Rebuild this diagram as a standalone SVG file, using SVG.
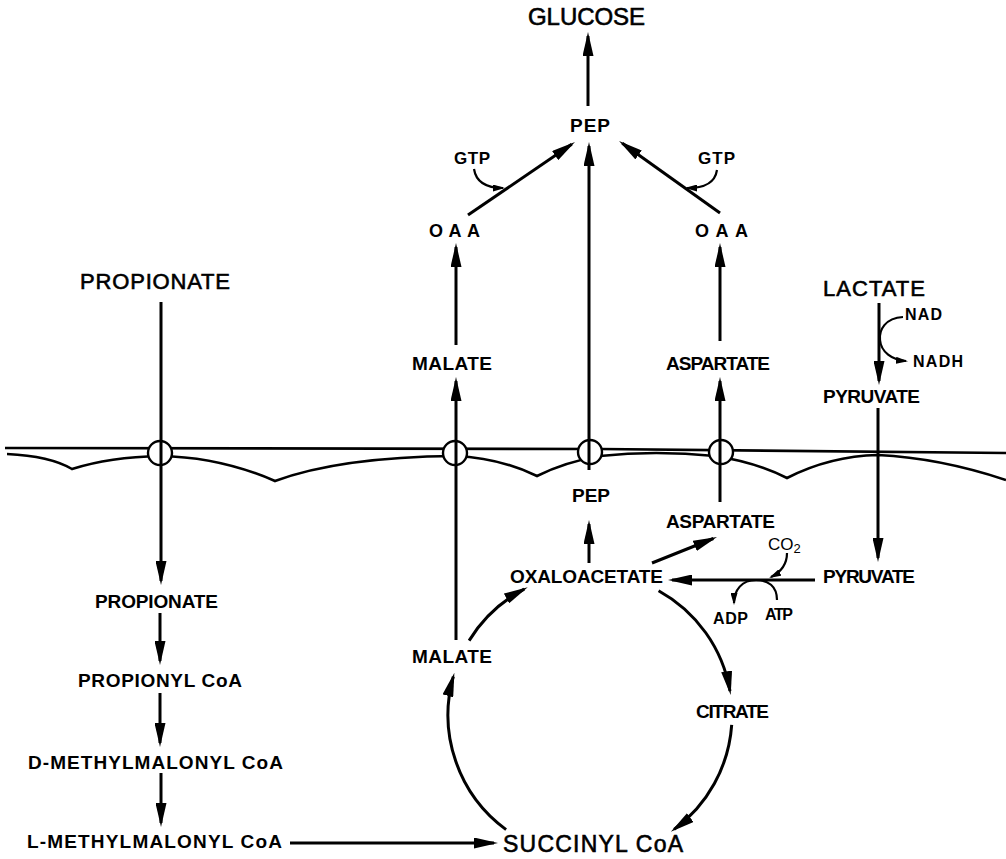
<svg xmlns="http://www.w3.org/2000/svg" width="1006" height="859" viewBox="0 0 1006 859">
<style>
.ln{stroke:#000;stroke-width:3;fill:none}
.cf{stroke:#000;stroke-width:2.2;fill:none}
.mb{stroke:#000;stroke-width:2.6;fill:none}
.pore{fill:#fff;stroke:#000;stroke-width:2.4}
text{font-family:"Liberation Sans",Arial,sans-serif;fill:#000}
.b{font-weight:bold;font-size:19px}
.s{font-weight:bold;font-size:18px}
.c{font-weight:bold;font-size:16px}
.n{font-weight:normal;font-size:22px;stroke:#000;stroke-width:0.6}
</style>
<defs>
<marker id="ah" viewBox="0 0 24 11" markerWidth="24" markerHeight="11" refX="20" refY="5.5" orient="auto" markerUnits="userSpaceOnUse"><path d="M0,0 L24,5.5 L0,11 z" fill="#000"/></marker>
<marker id="sh" viewBox="0 0 12 7" markerWidth="12" markerHeight="7" refX="10" refY="3.5" orient="auto" markerUnits="userSpaceOnUse"><path d="M0,0 L12,3.5 L0,7 z" fill="#000"/></marker>
</defs>
<rect width="1006" height="859" fill="#fff"/>

<g id="membrane">
<path class="mb" d="M5,448 L600,449 L1006,453"/>
<path class="mb" d="M7,454 Q50,456 72,469 Q110,457 160,456 Q220,457 275,481 Q340,457 455,456 Q500,458 537,476 Q565,462 600,456 Q655,450 715,456 Q755,462 787,478 Q830,456 878,455 Q940,458 1006,480"/>
<circle class="pore" cx="160" cy="453" r="12"/>
<circle class="pore" cx="455" cy="453" r="12"/>
<circle class="pore" cx="590" cy="452" r="12"/>
<circle class="pore" cx="721" cy="452" r="12"/>
</g>

<g id="connectors">
<line class="ln" x1="588" y1="106" x2="588" y2="36" marker-end="url(#ah)"/>
<line class="ln" x1="468" y1="215" x2="571.7" y2="144.3" marker-end="url(#ah)"/>
<line class="ln" x1="720" y1="213" x2="622.3" y2="143.3" marker-end="url(#ah)"/>
<line class="ln" x1="589" y1="470" x2="589" y2="146" marker-end="url(#ah)"/>
<line class="ln" x1="456" y1="345" x2="456" y2="247" marker-end="url(#ah)"/>
<line class="ln" x1="456" y1="640" x2="456" y2="381" marker-end="url(#ah)"/>
<line class="ln" x1="720" y1="341" x2="720" y2="247" marker-end="url(#ah)"/>
<line class="ln" x1="720" y1="502" x2="720" y2="381" marker-end="url(#ah)"/>
<line class="ln" x1="589" y1="563" x2="589" y2="524" marker-end="url(#ah)"/>
<line class="ln" x1="652" y1="563" x2="713.3" y2="538.5" marker-end="url(#ah)"/>
<line class="ln" x1="815" y1="580" x2="672" y2="580" marker-end="url(#ah)"/>
<line class="ln" x1="879" y1="303" x2="879" y2="381" marker-end="url(#ah)"/>
<line class="ln" x1="878" y1="408" x2="878" y2="558" marker-end="url(#ah)"/>
<line class="ln" x1="161" y1="302" x2="161" y2="581" marker-end="url(#ah)"/>
<line class="ln" x1="160" y1="613" x2="160" y2="661" marker-end="url(#ah)"/>
<line class="ln" x1="160" y1="693" x2="160" y2="743" marker-end="url(#ah)"/>
<line class="ln" x1="161" y1="773" x2="161" y2="823" marker-end="url(#ah)"/>
<line class="ln" x1="290" y1="843" x2="494" y2="843" marker-end="url(#ah)"/>
<path class="ln" d="M658.6,590.7 A142,142 0 0 1 730,691.1" marker-end="url(#ah)"/>
<path class="ln" d="M731.7,724.9 A142,142 0 0 1 674.1,829.4" marker-end="url(#ah)"/>
<path class="ln" d="M506.1,829.6 A142,142 0 0 1 453.3,676.6" marker-end="url(#ah)"/>
<path class="ln" d="M469.1,640.6 A142,142 0 0 1 524.2,589.2" marker-end="url(#ah)"/>
<path class="cf" d="M474,169 C476,182 486,188 503,188" marker-end="url(#sh)"/>
<path class="cf" d="M717,170 C715,183 705,188 687,188" marker-end="url(#sh)"/>
<path class="cf" d="M903,317 C885,318 879,330 880,340 C881,352 892,360 906,361" marker-end="url(#sh)"/>
<path class="cf" d="M787,553 C787,565 781,572 771,577" marker-end="url(#sh)"/>
<path class="cf" d="M777,600 C777,586 768,580 756,580 C742,580 734,590 734,603" marker-end="url(#sh)"/>
</g>

<g id="glucose"><text class="n" x="528" y="25" style="font-size:24px" textLength="117">GLUCOSE</text></g>
<g id="pep-top"><text class="b" x="570" y="132" textLength="40">PEP</text></g>
<g id="gtp-left"><text class="c" x="454" y="164" style="font-size:17px" textLength="36">GTP</text></g>
<g id="gtp-right"><text class="c" x="698" y="164" style="font-size:17px" textLength="37">GTP</text></g>
<g id="oaa-left"><text class="s" x="429" y="237" textLength="51">OAA</text></g>
<g id="oaa-right"><text class="s" x="695" y="237" textLength="53">OAA</text></g>
<g id="propionate-out"><text class="n" x="80" y="289" textLength="150">PROPIONATE</text></g>
<g id="lactate"><text class="n" x="823" y="296" textLength="102">LACTATE</text></g>
<g id="nad"><text class="c" x="905" y="320" textLength="37">NAD</text></g>
<g id="nadh"><text class="c" x="913" y="367" textLength="50">NADH</text></g>
<g id="malate-out"><text class="b" x="412" y="370" textLength="80">MALATE</text></g>
<g id="aspartate-out"><text class="b" x="666" y="370" textLength="104">ASPARTATE</text></g>
<g id="pyruvate-out"><text class="b" x="823" y="403" textLength="97">PYRUVATE</text></g>
<g id="pep-in"><text class="b" x="572" y="502" textLength="38">PEP</text></g>
<g id="aspartate-in"><text class="b" x="666" y="528" textLength="109">ASPARTATE</text></g>
<g id="co2"><text x="768" y="550" style="font-weight:normal;font-size:17px">CO<tspan font-size="13" dy="3">2</tspan></text></g>
<g id="oxaloacetate"><text class="b" x="510" y="583" textLength="153">OXALOACETATE</text></g>
<g id="pyruvate-in"><text class="b" x="823" y="583" textLength="92">PYRUVATE</text></g>
<g id="propionate-in"><text class="b" x="95" y="608" textLength="123">PROPIONATE</text></g>
<g id="atp"><text class="c" x="765" y="620" textLength="28">ATP</text></g>
<g id="adp"><text class="c" x="713" y="624" textLength="35">ADP</text></g>
<g id="malate-in"><text class="b" x="412" y="663" textLength="80">MALATE</text></g>
<g id="propionyl-coa"><text class="b" x="78" y="687" textLength="164">PROPIONYL CoA</text></g>
<g id="citrate"><text class="b" x="696" y="718" textLength="73">CITRATE</text></g>
<g id="d-methylmalonyl-coa"><text class="b" x="28" y="769" textLength="255">D-METHYLMALONYL CoA</text></g>
<g id="l-methylmalonyl-coa"><text class="b" x="27" y="848" textLength="255">L-METHYLMALONYL CoA</text></g>
<g id="succinyl-coa"><text class="n" x="503" y="852" style="font-size:23px" textLength="180">SUCCINYL CoA</text></g>
</svg>
